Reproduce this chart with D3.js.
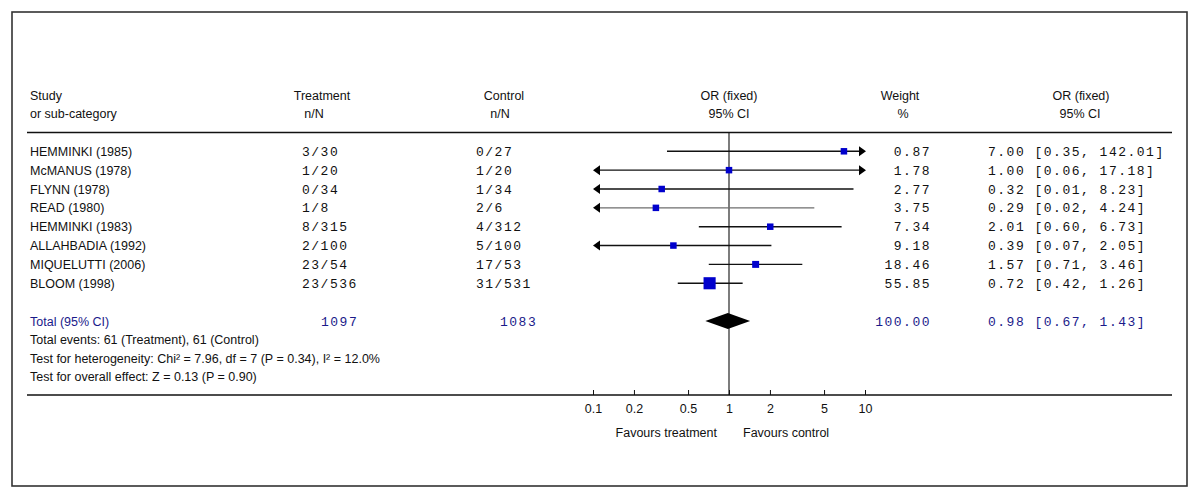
<!DOCTYPE html>
<html>
<head>
<meta charset="utf-8">
<script src="https://cdn.jsdelivr.net/npm/d3@7"></script>
<style>
  html, body { margin: 0; padding: 0; background: #fff; }
  svg text { font-family: "Liberation Sans", Arial, sans-serif; font-size: 12.5px; fill: #111; }
  svg text.mono { font-family: "Liberation Mono", "Courier New", monospace; font-size: 13px; letter-spacing: 1.5px; }
</style>
</head>
<body>
<svg id="chart" width="1200" height="500"></svg>
<script>
// ---- data ----
const studies = ["HEMMINKI (1985)", "McMANUS (1978)", "FLYNN (1978)", "READ (1980)",
                 "HEMMINKI (1983)", "ALLAHBADIA (1992)", "MIQUELUTTI (2006)", "BLOOM (1998)"];
const treatEvents = [3, 1, 0, 1, 8, 2, 23, 23];
const treatTotal  = [30, 20, 34, 8, 315, 100, 54, 536];
const ctrlEvents  = [0, 1, 1, 2, 4, 5, 17, 31];
const ctrlTotal   = [27, 20, 34, 6, 312, 100, 53, 531];
const weights     = [0.87, 1.78, 2.77, 3.75, 7.34, 9.18, 18.46, 55.85];
const orValues    = [7.00, 1.00, 0.32, 0.29, 2.01, 0.39, 1.57, 0.72];
const ciLow       = [0.35, 0.06, 0.01, 0.02, 0.60, 0.07, 0.71, 0.42];
const ciHigh      = [142.01, 17.18, 8.23, 4.24, 6.73, 2.05, 3.46, 1.26];
const totalTreat = 1097, totalCtrl = 1083, totalWeight = 100.00;
const totalOR = 0.98, totalLow = 0.67, totalHigh = 1.43;
const axisTicks = [0.1, 0.2, 0.5, 1, 2, 5, 10];
const footnotes = ["Total events: 61 (Treatment), 61 (Control)",
                   "Test for heterogeneity: Chi\u00B2 = 7.96, df = 7 (P = 0.34), I\u00B2 = 12.0%",
                   "Test for overall effect: Z = 0.13 (P = 0.90)"];

// ---- layout ----
const svg = d3.select("#chart");
const x = d3.scaleLog().domain([0.1, 10]).range([593, 865]);
const rowIdx = d3.scaleLinear().domain([0, 1]).range([151.3, 170.15]);
const blue = "#1a1a8a";
const boxBlue = "#0000cc";
const f2 = d3.format(".2f");

// outer frame
svg.append("rect").attr("x", 12).attr("y", 12).attr("width", 1175).attr("height", 474)
  .attr("fill", "none").attr("stroke", "#333").attr("stroke-width", 1.6);

// headers
const hdr = [
  {t1: "Study", t2: "or sub-category", x1: 30, x2: 30, anchor: "start"},
  {t1: "Treatment", t2: "n/N", x1: 322, x2: 314, anchor: "middle"},
  {t1: "Control", t2: "n/N", x1: 504, x2: 500, anchor: "middle"},
  {t1: "OR (fixed)", t2: "95% CI", x1: 729, x2: 729, anchor: "middle"},
  {t1: "Weight", t2: "%", x1: 900, x2: 903, anchor: "middle"},
  {t1: "OR (fixed)", t2: "95% CI", x1: 1081, x2: 1080, anchor: "middle"}
];
hdr.forEach(h => {
  svg.append("text").attr("x", h.x1).attr("y", 100).attr("text-anchor", h.anchor).text(h.t1);
  svg.append("text").attr("x", h.x2).attr("y", 118).attr("text-anchor", h.anchor).text(h.t2);
});

// header rule and bottom axis rule
svg.append("line").attr("x1", 27).attr("x2", 1172).attr("y1", 132.5).attr("y2", 132.5)
  .attr("stroke", "#111").attr("stroke-width", 1.3);
const axisY = 395;
svg.append("line").attr("x1", 27).attr("x2", 1172).attr("y1", axisY).attr("y2", axisY)
  .attr("stroke", "#111").attr("stroke-width", 1.3);

// line of no effect
svg.append("line").attr("x1", x(1)).attr("x2", x(1)).attr("y1", 132.5).attr("y2", axisY)
  .attr("stroke", "#111").attr("stroke-width", 1.1);

// study rows
const rows = svg.append("g");
studies.forEach((s, i) => {
  const y = rowIdx(i);
  const ty = y + 4.5;
  rows.append("text").attr("x", 30).attr("y", ty).text(s);
  rows.append("text").attr("class", "mono").attr("x", 302).attr("y", ty)
    .text(treatEvents[i] + "/" + treatTotal[i]);
  rows.append("text").attr("class", "mono").attr("x", 476).attr("y", ty)
    .text(ctrlEvents[i] + "/" + ctrlTotal[i]);
  rows.append("text").attr("class", "mono").attr("x", 931).attr("y", ty).attr("text-anchor", "end")
    .text(f2(weights[i]));
  rows.append("text").attr("class", "mono").attr("x", 988).attr("y", ty)
    .text(f2(orValues[i]) + " [" + f2(ciLow[i]) + ", " + f2(ciHigh[i]) + "]");

  // CI line (clipped to axis domain)
  const [dmin, dmax] = x.domain();
  const lo = Math.max(ciLow[i], dmin), hi = Math.min(ciHigh[i], dmax);
  const lineColor = i === 3 ? "#6e6e6e" : "#111";
  const x1 = x(lo) + (ciLow[i] < dmin ? 6 : 0);
  const x2 = x(hi) - (ciHigh[i] > dmax ? 6 : 0);
  rows.append("line").attr("x1", x1).attr("x2", x2).attr("y1", y).attr("y2", y)
    .attr("stroke", lineColor).attr("stroke-width", 1.4);
  if (ciLow[i] < dmin) {
    const tx = x(dmin);
    rows.append("path").attr("d", `M${tx},${y} L${tx + 7},${y - 5} L${tx + 7},${y + 5} Z`).attr("fill", "#000");
  }
  if (ciHigh[i] > dmax) {
    const tx = x(dmax) + 1;
    rows.append("path").attr("d", `M${tx},${y} L${tx - 7},${y - 5} L${tx - 7},${y + 5} Z`).attr("fill", "#000");
  }
  // weight box
  const size = Math.max(6.5, 1.62 * Math.sqrt(weights[i]));
  rows.append("rect").attr("x", x(orValues[i]) - size / 2).attr("y", y - size / 2)
    .attr("width", size).attr("height", size).attr("fill", boxBlue);
});

// total row
const totY = 321;
svg.append("text").attr("x", 30).attr("y", totY + 4.5).style("fill", blue).text("Total (95% CI)");
svg.append("text").attr("class", "mono").attr("x", 321).attr("y", totY + 4.5).style("fill", blue).text(totalTreat);
svg.append("text").attr("class", "mono").attr("x", 500).attr("y", totY + 4.5).style("fill", blue).text(totalCtrl);
svg.append("text").attr("class", "mono").attr("x", 931).attr("y", totY + 4.5).attr("text-anchor", "end")
  .style("fill", blue).text(f2(totalWeight));
svg.append("text").attr("class", "mono").attr("x", 988).attr("y", totY + 4.5).style("fill", blue)
  .text(f2(totalOR) + " [" + f2(totalLow) + ", " + f2(totalHigh) + "]");
svg.append("path")
  .attr("d", `M${x(totalLow)},${totY} L${x(totalOR)},${totY - 8} L${x(totalHigh)},${totY} L${x(totalOR)},${totY + 8} Z`)
  .attr("fill", "#000");

// footnotes
footnotes.forEach((t, i) => {
  svg.append("text").attr("x", 30).attr("y", 344 + i * 18.6).text(t);
});

// axis
const axis = d3.axisBottom(x).tickValues(axisTicks).tickFormat(d3.format("")).tickSizeInner(-5).tickSizeOuter(0).tickPadding(9);
const ag = svg.append("g").attr("transform", `translate(0,${axisY})`).call(axis);
ag.select(".domain").remove();
ag.selectAll(".tick line").attr("stroke", "#111");
ag.selectAll(".tick text").attr("font-family", null).attr("font-size", null).style("fill", "#111");

// favours labels
svg.append("text").attr("x", x(1) - 12).attr("y", 437).attr("text-anchor", "end").text("Favours treatment");
svg.append("text").attr("x", x(1) + 14).attr("y", 437).attr("text-anchor", "start").text("Favours control");
</script>
</body>
</html>
